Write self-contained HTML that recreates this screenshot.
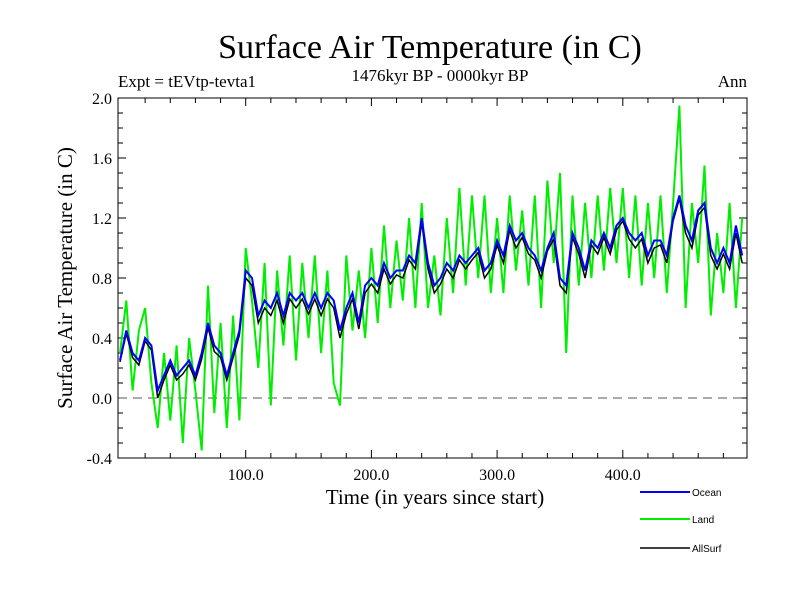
<!DOCTYPE html>
<html><head><meta charset="utf-8"><style>
body{margin:0;background:#fff;}
svg text{font-family:"Liberation Serif",serif;}
</style></head><body>
<svg id="c" width="800" height="600" xmlns="http://www.w3.org/2000/svg">
<text x="430" y="58" font-size="34" text-anchor="middle">Surface Air Temperature (in C)</text>
<text x="118" y="87" font-size="17">Expt = tEVtp-tevta1</text>
<text x="440" y="81" font-size="17" text-anchor="middle">1476kyr BP - 0000kyr BP</text>
<text x="747" y="87" font-size="17" text-anchor="end">Ann</text>
<text x="435" y="504" font-size="21" text-anchor="middle">Time (in years since start)</text>
<text transform="translate(72,278) rotate(-90)" font-size="21" text-anchor="middle">Surface Air Temperature (in C)</text>
<g id="ticks"></g>
<g id="series"></g>
<rect x="118" y="98" width="629" height="360" fill="none" stroke="#000" stroke-width="1"/>
<g font-size="10">
<line x1="640" y1="492" x2="690" y2="492" stroke="#0000ff" stroke-width="2"/>
<text x="692" y="496" style="font-family:'Liberation Sans',sans-serif">Ocean</text>
<line x1="640" y1="519" x2="690" y2="519" stroke="#00ee00" stroke-width="2"/>
<text x="692" y="523" style="font-family:'Liberation Sans',sans-serif">Land</text>
<line x1="640" y1="548" x2="690" y2="548" stroke="#000" stroke-width="1.5"/>
<text x="692" y="552" style="font-family:'Liberation Sans',sans-serif">AllSurf</text>
</g>
</svg>
<script>
const years = [];
for (let i = 0; i < 100; i++) years.push(i * 5);
const land = [0.3,0.65,0.05,0.45,0.6,0.1,-0.2,0.3,-0.15,0.35,-0.3,0.4,0.05,-0.35,0.75,-0.1,0.5,-0.2,0.55,-0.15,1.0,0.65,0.2,0.9,-0.05,0.85,0.35,0.95,0.25,0.9,0.4,0.95,0.3,0.85,0.1,-0.05,0.95,0.45,0.85,0.4,1.0,0.5,1.15,0.6,1.05,0.65,1.2,0.6,1.3,0.6,0.95,0.55,1.2,0.7,1.4,0.75,1.35,0.8,1.35,0.7,1.2,0.7,1.35,0.85,1.25,0.75,1.35,0.6,1.45,0.9,1.5,0.3,1.35,0.75,1.3,0.8,1.35,0.85,1.4,0.9,1.4,0.8,1.35,0.75,1.3,0.8,1.35,0.7,1.3,1.95,0.6,1.3,0.9,1.55,0.55,1.1,0.7,1.3,0.6,1.2];
const ocean = [0.25,0.45,0.3,0.25,0.4,0.35,0.05,0.15,0.25,0.15,0.2,0.25,0.15,0.3,0.5,0.35,0.3,0.15,0.3,0.45,0.85,0.8,0.55,0.65,0.6,0.7,0.55,0.7,0.65,0.7,0.6,0.7,0.6,0.7,0.65,0.45,0.6,0.7,0.5,0.75,0.8,0.75,0.9,0.8,0.85,0.85,0.95,0.9,1.2,0.9,0.75,0.8,0.9,0.85,0.95,0.9,0.95,1.0,0.85,0.9,1.05,0.95,1.15,1.05,1.1,1.0,0.95,0.85,1.0,1.1,0.8,0.75,1.1,1.0,0.85,1.05,1.0,1.1,1.0,1.15,1.2,1.1,1.05,1.1,0.95,1.05,1.05,0.95,1.2,1.35,1.15,1.05,1.25,1.3,1.0,0.9,1.0,0.9,1.15,0.95];
const allSurf = [0.24,0.43,0.27,0.22,0.38,0.32,0.0,0.12,0.22,0.12,0.16,0.22,0.12,0.26,0.47,0.31,0.27,0.12,0.27,0.42,0.8,0.75,0.5,0.6,0.55,0.65,0.5,0.66,0.6,0.66,0.56,0.66,0.55,0.66,0.6,0.4,0.56,0.66,0.46,0.7,0.76,0.7,0.86,0.76,0.82,0.8,0.92,0.86,1.17,0.86,0.7,0.76,0.86,0.8,0.92,0.86,0.92,0.97,0.8,0.86,1.02,0.9,1.12,1.0,1.07,0.96,0.92,0.8,0.98,1.06,0.75,0.7,1.07,0.96,0.8,1.02,0.96,1.07,0.96,1.12,1.18,1.06,1.0,1.06,0.9,1.0,1.02,0.9,1.18,1.33,1.1,1.0,1.22,1.27,0.95,0.86,0.96,0.86,1.1,0.9];
const yTicks = ["2.0","1.6","1.2","0.8","0.4","0.0","-0.4"];
const xTicks = ["100.0","200.0","300.0","400.0"];

const X0=118, X1=747, Y0=98, Y1=458;
const xMin=0, xMax=500, yMin=-0.4, yMax=2.0;
function sx(v){return 120 + (v - xMin) * 1.257;}
function sy(v){return Y1 - (v - yMin) / (yMax - yMin) * (Y1 - Y0);}
const NS="http://www.w3.org/2000/svg";
const tg=document.getElementById('ticks'), sg=document.getElementById('series');
function mk(tag, attrs, parent){const e=document.createElementNS(NS,tag);for(const k in attrs)e.setAttribute(k,attrs[k]);parent.appendChild(e);return e;}
// y ticks
for (let v = -0.4; v <= 2.0001; v += 0.1) {
  const y = sy(v), major = Math.abs(Math.round(v*10)%4)===0;
  const L = major ? 8 : 5;
  const t1 = mk('line',{x1:X0,y1:y,x2:X0+L,y2:y,stroke:'#000'},tg);
  
  
  const t2 = mk('line',{x1:X1,y1:y,x2:X1-L,y2:y,stroke:'#000'},tg);
  
  
}
yTicks.forEach(s => {
  const t = mk('text',{x:X0-6,y:sy(parseFloat(s))+6,'font-size':16,'text-anchor':'end'},tg);
  t.textContent=s;
  
  
});
for (let v = 20; v < 500; v += 20) {
  const x = sx(v), L = v%100===0 ? 8 : 5;
  const a = mk('line',{x1:x,y1:Y1,x2:x,y2:Y1-L,stroke:'#000'},tg);
  
  
  const b = mk('line',{x1:x,y1:Y0,x2:x,y2:Y0+L,stroke:'#000'},tg);
  
  
}
xTicks.forEach(s => {
  const t = mk('text',{x:sx(parseFloat(s)),y:Y1+22,'font-size':16,'text-anchor':'middle'},tg);
  t.textContent=s;
  
  
});
const zl = mk('line',{x1:X0,y1:sy(0),x2:X1,y2:sy(0),stroke:'#555','stroke-dasharray':'9,6'},tg);


function pts(arr){return arr.map((v,i)=>sx(years[i]).toFixed(1)+','+sy(v).toFixed(1)).join(' ');}
const pl = mk('polyline',{points:pts(land),fill:'none',stroke:'#00ee00','stroke-width':2},sg);


const pa = mk('polyline',{points:pts(allSurf),fill:'none',stroke:'#000','stroke-width':1.5},sg);


const po = mk('polyline',{points:pts(ocean),fill:'none',stroke:'#0000ff','stroke-width':2},sg);


</script>
</body></html>
